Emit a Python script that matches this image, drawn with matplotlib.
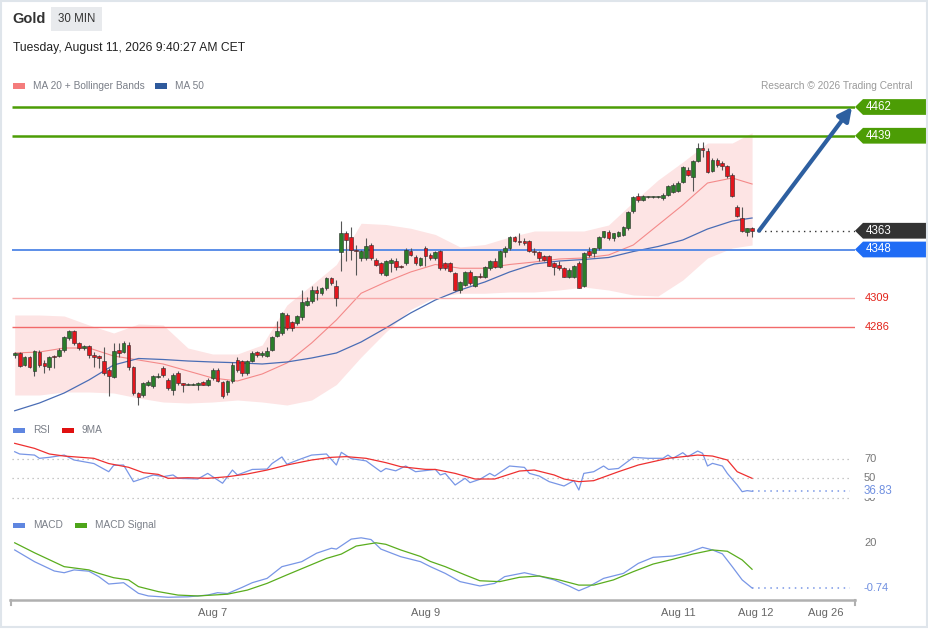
import numpy as np
import matplotlib
matplotlib.use("Agg")
import matplotlib.pyplot as plt
from matplotlib.patches import Rectangle, Polygon
from matplotlib.transforms import blended_transform_factory

# 30 min candles
opens = [4264, 4265, 4256, 4262, 4251, 4266, 4257, 4254, 4263, 4263,
         4268, 4277, 4283, 4273, 4269, 4271, 4264, 4263, 4259, 4252,
         4246, 4268, 4266, 4272, 4254, 4233, 4232, 4240, 4239, 4246,
         4253, 4244, 4236, 4249, 4241, 4240, 4240, 4240, 4242, 4240,
         4245, 4252, 4242, 4234, 4243, 4260, 4259, 4249, 4259, 4266,
         4264, 4263, 4268, 4279, 4281, 4296, 4290, 4289, 4294, 4304,
         4307, 4316, 4313, 4317, 4325, 4319, 4346, 4361, 4358, 4348,
         4341, 4341, 4352, 4340, 4337, 4328, 4337, 4339, 4335, 4337,
         4347, 4342, 4336, 4349, 4344, 4341, 4347, 4337, 4337, 4329,
         4316, 4320, 4330, 4319, 4327, 4326, 4333, 4339, 4334, 4346,
         4349, 4358, 4355, 4355, 4355, 4347, 4346, 4343, 4343, 4337,
         4336, 4333, 4326, 4326, 4337, 4319, 4347, 4345, 4349, 4358,
         4362, 4357, 4359, 4360, 4365, 4379, 4391, 4388, 4390, 4390,
         4390, 4389, 4392, 4394, 4395, 4402, 4412, 4406, 4419, 4429,
         4427, 4411, 4420, 4417, 4415, 4408, 4382, 4373, 4362, 4365]
highs = [4266, 4266, 4263, 4263, 4268, 4268, 4260, 4263, 4264, 4269,
         4279, 4284, 4284, 4274, 4272, 4272, 4266, 4264, 4270, 4253,
         4273, 4273, 4275, 4274, 4255, 4234, 4242, 4244, 4248, 4249,
         4255, 4245, 4249, 4251, 4241, 4241, 4241, 4242, 4243, 4245,
         4253, 4253, 4243, 4244, 4258, 4262, 4260, 4260, 4267, 4267,
         4267, 4270, 4279, 4291, 4298, 4297, 4291, 4296, 4316, 4310,
         4319, 4319, 4318, 4326, 4326, 4324, 4371, 4363, 4366, 4352,
         4348, 4357, 4353, 4341, 4338, 4340, 4341, 4341, 4336, 4349,
         4349, 4344, 4342, 4351, 4345, 4347, 4348, 4338, 4338, 4330,
         4323, 4331, 4332, 4327, 4329, 4335, 4340, 4341, 4348, 4351,
         4359, 4359, 4361, 4357, 4356, 4349, 4347, 4344, 4344, 4338,
         4339, 4334, 4333, 4336, 4339, 4346, 4350, 4349, 4359, 4363,
         4364, 4361, 4363, 4367, 4379, 4391, 4393, 4392, 4391, 4391,
         4391, 4393, 4400, 4401, 4403, 4415, 4414, 4420, 4433, 4434,
         4429, 4421, 4421, 4419, 4416, 4409, 4384, 4382, 4365, 4366]
lows = [4261, 4254, 4255, 4253, 4247, 4254, 4249, 4252, 4253, 4262,
        4266, 4276, 4272, 4268, 4268, 4261, 4254, 4253, 4248, 4231,
        4245, 4262, 4265, 4252, 4232, 4224, 4230, 4239, 4237, 4245,
        4246, 4236, 4232, 4240, 4234, 4240, 4240, 4236, 4240, 4239,
        4244, 4242, 4229, 4232, 4241, 4250, 4247, 4248, 4258, 4262,
        4262, 4262, 4267, 4278, 4280, 4284, 4283, 4288, 4292, 4303,
        4305, 4308, 4312, 4316, 4320, 4303, 4331, 4339, 4340, 4328,
        4339, 4340, 4340, 4335, 4328, 4327, 4330, 4332, 4333, 4336,
        4343, 4336, 4335, 4335, 4340, 4340, 4332, 4332, 4330, 4315,
        4313, 4319, 4320, 4318, 4325, 4325, 4332, 4333, 4333, 4342,
        4348, 4354, 4352, 4352, 4346, 4344, 4339, 4339, 4335, 4328,
        4332, 4326, 4325, 4325, 4317, 4318, 4342, 4342, 4348, 4357,
        4356, 4355, 4358, 4359, 4364, 4377, 4386, 4387, 4389, 4389,
        4389, 4388, 4391, 4393, 4394, 4401, 4407, 4395, 4418, 4422,
        4409, 4410, 4414, 4412, 4405, 4390, 4374, 4362, 4359, 4358]
closes = [4265, 4255, 4262, 4254, 4267, 4256, 4255, 4262, 4262, 4268,
          4278, 4283, 4273, 4269, 4271, 4264, 4262, 4261, 4249, 4247,
          4267, 4265, 4273, 4254, 4233, 4230, 4241, 4242, 4247, 4247,
          4248, 4237, 4248, 4241, 4240, 4240, 4240, 4241, 4240, 4244,
          4252, 4243, 4231, 4243, 4256, 4252, 4249, 4259, 4265, 4264,
          4265, 4267, 4278, 4283, 4297, 4285, 4285, 4295, 4306, 4307,
          4316, 4313, 4317, 4325, 4321, 4309, 4361, 4356, 4348, 4347,
          4347, 4351, 4341, 4336, 4329, 4339, 4340, 4334, 4334, 4348,
          4344, 4337, 4341, 4343, 4341, 4346, 4333, 4333, 4331, 4316,
          4322, 4330, 4321, 4327, 4326, 4334, 4339, 4334, 4347, 4349,
          4358, 4355, 4354, 4353, 4347, 4346, 4341, 4340, 4335, 4334,
          4333, 4326, 4332, 4335, 4317, 4345, 4344, 4349, 4358, 4363,
          4357, 4361, 4362, 4366, 4378, 4390, 4388, 4391, 4390, 4390,
          4390, 4392, 4399, 4400, 4401, 4414, 4408, 4419, 4429, 4428,
          4410, 4420, 4416, 4415, 4407, 4391, 4375, 4363, 4365, 4363]

# moving averages / bands, sampled every 5 bars
ind_idx = [0, 5, 10, 15, 20, 25, 30, 35, 40, 45, 50, 55, 60, 65, 70, 75,
           80, 85, 90, 95, 100, 105, 110, 115, 120, 125, 130, 135, 140, 145, 149]
bb_upper = [4295.6, 4295.6, 4294.8, 4287.6, 4281.2, 4288.4, 4287.6, 4269.2, 4264.4, 4264.4,
            4271.6, 4303.6, 4319.6, 4336, 4369, 4368, 4365, 4360, 4350, 4352,
            4358, 4362.8, 4362.8, 4362.8, 4367.6, 4386, 4403.6, 4418, 4433.2, 4433.2, 4441.4]
bb_lower = [4231.6, 4231.6, 4234, 4234, 4233.2, 4229.2, 4226, 4225.2, 4226, 4227.6,
            4226, 4223.6, 4227.6, 4240, 4262, 4282, 4300, 4310, 4313, 4313,
            4314, 4314, 4315.6, 4318, 4315.6, 4311.6, 4310.8, 4323.6, 4341.2, 4349.2, 4351.6]
ma20 = [4265.2, 4266, 4269.2, 4269.2, 4262.8, 4259.6, 4256.4, 4250.8, 4245.2, 4242.8,
        4248.4, 4257.2, 4273.2, 4291.6, 4313, 4322, 4330, 4336, 4333, 4333,
        4336, 4338, 4340.4, 4341.2, 4343.6, 4351.6, 4367.6, 4383.6, 4401.2, 4405.2, 4400.4]
ma50 = [4219, 4225.2, 4233.2, 4243.6, 4255.6, 4260.8, 4260, 4258.8, 4258, 4257.4,
        4256.4, 4258, 4261.2, 4265.2, 4274, 4285.2, 4297.2, 4307.6, 4315.6, 4322,
        4330, 4336.4, 4338.8, 4340, 4341.6, 4346.4, 4350.4, 4355.6, 4364.4, 4370.8, 4373.2]

# RSI and its 9 period MA
rsi_idx = [0, 1, 4, 5, 7, 10, 12, 16, 19, 20, 22, 24, 26, 28, 30, 32, 33, 37, 39, 42,
           44, 45, 48, 51, 52, 54, 55, 58, 60, 63, 65, 66, 68, 71, 74, 75, 77, 79, 81, 85,
           86, 87, 89, 91, 92, 94, 96, 97, 100, 103, 104, 106, 108, 111, 113, 114, 115, 117, 119, 120,
           122, 125, 128, 131, 132, 133, 135, 136, 138, 139, 140, 141, 143, 144, 146, 147, 148, 149]
rsi_val = [77.0, 74.7, 73.6, 70.3, 71.3, 73.6, 68.6, 65, 56.7, 63.2, 63.5, 46.6, 50, 53.4, 51.7, 53.4, 50, 49.3, 55, 45,
           58.4, 53.4, 59, 59.4, 65, 71.7, 64.3, 70, 73.6, 74.7, 63.5, 76.4, 70, 67.7, 56.7, 60, 57.6, 62.5, 56.7, 59,
           53.4, 55, 43.2, 50, 45.6, 49, 55, 52.3, 62.5, 61.1, 55, 52.3, 46.6, 42.2, 47.6, 38.1, 55, 56.7, 62.5, 59,
           60, 71.3, 70.3, 70.3, 73.6, 70.3, 76, 72, 77.7, 75.4, 62.5, 65.2, 62.5, 55, 43.2, 36.4, 37.5, 36.83]
rsi_ma_idx = [0, 4, 7, 10, 16, 19, 23, 26, 29, 31, 35, 39, 43, 47, 51, 55, 60, 64, 67, 71,
              75, 78, 83, 85, 89, 93, 97, 102, 105, 109, 111, 114, 117, 122, 126, 132, 138, 141, 144, 146, 149]
rsi_ma_val = [85.5, 80.4, 74.7, 72.6, 70.3, 65, 61.2, 55.7, 54, 50, 50.6, 50, 51.6, 54.4, 58.4, 63.5, 68.6, 71.3, 72, 70.3,
              65.9, 61.8, 59.1, 59, 55, 49.3, 49.3, 57.4, 58.4, 53.4, 49.3, 46.6, 47.6, 56.7, 63.5, 70.3, 73.6, 72.6, 68.6, 56.7, 50]
rsi_last = 36.83
rsi_levels = [70, 50, 30]

# MACD and signal
macd_idx = [0, 4, 8, 10, 12, 15, 17, 19, 22, 25, 27, 31, 35, 39, 41, 43, 46, 48, 51, 54,
            58, 61, 64, 65, 68, 70, 72, 74, 78, 82, 84, 87, 90, 94, 97, 99, 103, 105, 109, 112,
            114, 116, 119, 123, 126, 129, 133, 136, 139, 141, 143, 145, 147, 149]
macd_val = [16.8, 11.4, 7.1, 6.3, 7.6, 7.0, 4.5, 1.1, 1.7, -3.2, -4.4, -5, -4.8, -4, -2.9, -3.3, -0.4, 1.7, 3.7, 9.1,
            11.4, 15.3, 17.6, 17.2, 21.8, 22.4, 21.6, 17.2, 13.7, 11.4, 9.1, 6, 2.2, 0.2, 1.4, 4.5, 6.3, 5.3, 3, 0.2,
            -2, -0.1, 3.7, 6, 10.6, 13.4, 14, 15.5, 18, 16.8, 15, 9.1, 3, -0.74]
sig_idx = [0, 4, 10, 15, 17, 20, 23, 25, 29, 33, 37, 43, 47, 51, 55, 59, 63, 66, 69, 73,
           75, 78, 82, 84, 87, 91, 94, 98, 102, 106, 110, 114, 117, 121, 125, 129, 133, 137, 141, 144, 147, 149]
sig_val = [20.1, 15.5, 9.1, 7.6, 6, 4, 3, -0.1, -2.4, -4, -4.4, -3.6, -1.7, 1.4, 5.3, 9.1, 12.9, 14.9, 18.6, 20.1,
           19.4, 16.8, 13.8, 11.5, 9.1, 5.3, 2.6, 2.2, 4.2, 4.8, 3, 0.6, 0.6, 3, 6.8, 10.3, 12.5, 14.9, 16.8, 16.2, 12.2, 7.9]
macd_last = -0.74
macd_tick = 20

# key levels
resist_levels = [4462, 4439]
pivot_level = 4348
support_levels = [4309, 4286]
last_price = 4363
target_price = 4462
arrow_start = 150.4
arrow_end = 169.2

date_pos = [40.0, 83.1, 134.0, 149.7, 163.9]
date_labels = ["Aug 7", "Aug 9", "Aug 11", "Aug 12", "Aug 26"]

W, H = 929, 629
XLIM = (-0.95, 169.8)
AX_W = 845

plt.rcParams['font.family'] = ['Liberation Sans', 'DejaVu Sans']

fig = plt.figure(figsize=(W / 100, H / 100), dpi=100)


def px_axes(x0, y0, x1, y1):
    a = fig.add_axes([x0 / W, 1 - y1 / H, (x1 - x0) / W, (y1 - y0) / H])
    a.set_xlim(XLIM)
    a.axis("off")
    return a


def fx(x):
    return x / W


def fy(y):
    return 1 - y / H


GREEN = "#4c9d05"
BLUE_LVL = "#4f86e6"
LINE_BLUE = "#7896e6"

# outer frame
fig.patches.append(Rectangle((fx(1), fy(627)), fx(926), 626 / H, transform=fig.transFigure,
                             fill=False, ec="#dfe5eb", lw=1.5))

# header
fig.text(fx(12), fy(19), "Gold", fontsize=10.5, fontweight="bold", color="#333333", va="center")
fig.patches.append(Rectangle((fx(51), fy(30.5)), 51 / W, 24 / H, transform=fig.transFigure,
                             fc="#e8eaed", ec="none"))
fig.text(fx(76.5), fy(19), "30 MIN", fontsize=8.3, color="#333333", ha="center", va="center")
fig.text(fx(13), fy(48), "Tuesday, August 11, 2026 9:40:27 AM CET", fontsize=8.7, color="#222222",
         va="center")


def legend_item(x, y, color, label):
    fig.patches.append(Rectangle((fx(x), fy(y + 2.5)), 12 / W, 5 / H, transform=fig.transFigure,
                                 fc=color, ec="none"))
    fig.text(fx(x + 20), fy(y), label, fontsize=7.3, color="#7a7f88", va="center")


legend_item(13, 86, "#f47c7c", "MA 20 + Bollinger Bands")
legend_item(155, 86, "#2f5a9c", "MA 50")
fig.text(fx(913), fy(86), "Research \u00a9 2026 Trading Central", fontsize=7.3, color="#9a9a9a",
         ha="right", va="center")
legend_item(13, 430, "#5f86e0", "RSI")
legend_item(62, 430, "#e01010", "9MA")
legend_item(13, 525, "#5f86e0", "MACD")
legend_item(75, 525, "#4ea51a", "MACD Signal")

# ---- price panel ----
ax = px_axes(10, 100, 855, 415)
ax.set_ylim(4215.6, 4467.6)
trans = blended_transform_factory(ax.transAxes, ax.transData)

ax.fill_between(ind_idx, bb_lower, bb_upper, color="#fde4e4", lw=0, zorder=1)
ax.plot(ind_idx, ma20, color="#f48a8a", lw=0.8, zorder=2)
ax.plot(ind_idx, ma50, color="#4a6db5", lw=0.9, zorder=2)

ax.hlines(resist_levels, XLIM[0] + 0.4, XLIM[1], colors=GREEN, lw=1.8, zorder=2)
ax.hlines(pivot_level, XLIM[0] + 0.4, XLIM[1], colors=BLUE_LVL, lw=1.3, zorder=2)
ax.hlines(support_levels[0], XLIM[0] + 0.4, XLIM[1], colors="#f7a9a9", lw=1, zorder=2)
ax.hlines(support_levels[1], XLIM[0] + 0.4, XLIM[1], colors="#f26a6a", lw=1, zorder=2)

idx = np.arange(len(opens))
ax.vlines(idx, lows, highs, colors="#555555", lw=0.8, zorder=3)
for i in idx:
    o, c = opens[i], closes[i]
    col = "#2a7d2a" if c >= o else "#e3161d"
    ax.add_patch(Rectangle((i - 0.38, min(o, c)), 0.76, max(abs(c - o), 0.6),
                           fc=col, ec="#2a2a2a", lw=0.4, zorder=4))

ax.hlines(last_price, arrow_start, XLIM[1], colors="#333333", linestyles=(0, (1, 3)), lw=1, zorder=3)
ax.annotate("", xy=(arrow_end, target_price), xytext=(arrow_start, last_price),
            arrowprops=dict(arrowstyle="-|>", color="#2d5fa0", lw=3, mutation_scale=20,
                            shrinkA=0, shrinkB=0), zorder=6)


def tag(a, tr, y, text, color, half):
    a1 = 8 / AX_W
    b1 = 74 / AX_W
    a.add_patch(Polygon([(1.0, y), (1.0 + a1, y + half), (1.0 + b1, y + half),
                         (1.0 + b1, y - half), (1.0 + a1, y - half)], closed=True,
                        transform=tr, fc=color, ec="none", clip_on=False, zorder=6))
    a.text(1.0 + 11 / AX_W, y, text, transform=tr, color="white", fontsize=8.3, va="center",
           ha="left", clip_on=False, zorder=7)


for lvl in resist_levels:
    tag(ax, trans, lvl, str(lvl), GREEN, 6.3)
tag(ax, trans, last_price, str(last_price), "#333333", 6.3)
tag(ax, trans, pivot_level, str(pivot_level), "#1f6cf5", 6.3)
for lvl in support_levels:
    ax.text(1.0 + 10 / AX_W, lvl, str(lvl), transform=trans, color="#e2231a", fontsize=8,
            va="center", ha="left", clip_on=False)

# ---- RSI panel ----
rax = px_axes(10, 440, 855, 505)
rax.set_ylim(22.9, 88.9)
rtrans = blended_transform_factory(rax.transAxes, rax.transData)
rax.hlines(rsi_levels, XLIM[0] + 0.4, XLIM[1] - 1, colors="#b5b5b5", linestyles=(0, (1, 3)), lw=0.9)
rax.plot(rsi_idx, rsi_val, color=LINE_BLUE, lw=0.9, zorder=3)
rax.plot(rsi_ma_idx, rsi_ma_val, color="#ee3030", lw=0.9, zorder=4)
rax.hlines(rsi_last, rsi_idx[-1], XLIM[1] - 1, colors=LINE_BLUE, linestyles=(0, (1, 3)), lw=1.1)
for lvl in rsi_levels:
    rax.text(1.0 + 9 / AX_W, lvl, str(lvl), transform=rtrans, color="#777777", fontsize=8,
             va="center", ha="left", clip_on=False)
rax.text(1.0 + 9 / AX_W, rsi_last, f"{rsi_last:.2f}", transform=rtrans, color="#6f8fe0", fontsize=8.3,
         va="center", ha="left", clip_on=False, zorder=5,
         bbox=dict(fc="white", ec="none", pad=0.3))

# ---- MACD panel ----
max_ = px_axes(10, 530, 855, 600)
max_.axis("on")
max_.set_ylim(-6.27, 26.0)
mtrans = blended_transform_factory(max_.transAxes, max_.transData)
for s in ["top", "left", "right"]:
    max_.spines[s].set_visible(False)
max_.spines["bottom"].set_color("#b0b0b0")
max_.spines["bottom"].set_linewidth(1.8)
max_.set_yticks([])
max_.set_xticks(date_pos)
max_.set_xticklabels(date_labels)
max_.tick_params(axis="x", length=0, pad=6, labelsize=8, labelcolor="#666666")
max_.plot(macd_idx, macd_val, color=LINE_BLUE, lw=0.9, zorder=3)
max_.plot(sig_idx, sig_val, color="#5aad1e", lw=0.9, zorder=3)
max_.hlines(macd_last, macd_idx[-1], XLIM[1] - 1, colors=LINE_BLUE, linestyles=(0, (1, 3)), lw=1.1)
max_.text(1.0 + 9 / AX_W, macd_tick, str(macd_tick), transform=mtrans, color="#777777", fontsize=8,
          va="center", ha="left", clip_on=False)
max_.text(1.0 + 9 / AX_W, macd_last, f"{macd_last:.2f}", transform=mtrans, color="#6f8fe0", fontsize=8,
          va="center", ha="left", clip_on=False)
btrans = blended_transform_factory(max_.transData, max_.transAxes)
for xe in [XLIM[0] + 0.2, XLIM[1]]:
    max_.plot([xe, xe], [0, -0.07], transform=btrans, color="#b0b0b0", lw=1.5, clip_on=False)

fig.savefig("out.png", dpi=100)
